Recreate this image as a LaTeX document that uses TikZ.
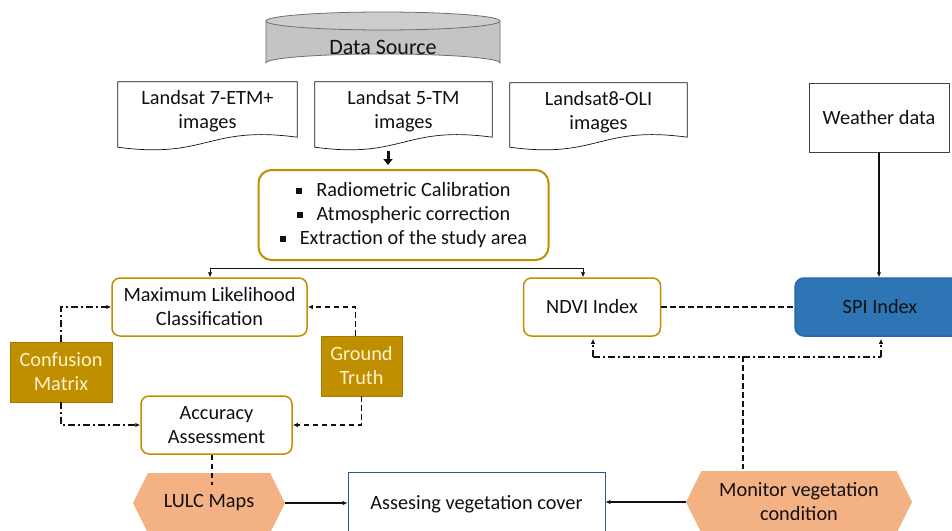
\documentclass[tikz,border=0pt]{standalone}
\usepackage{fontspec}
\setmainfont{Carlito}
\usetikzlibrary{calc,arrows.meta,shapes.symbols}

\definecolor{gold}{HTML}{BF8F00}
\definecolor{cream}{HTML}{FFF2CC}
\definecolor{peach}{HTML}{F4B183}
\definecolor{spiblue}{HTML}{2E75B6}
\definecolor{spiedge}{HTML}{2A66A8}
\definecolor{navy}{HTML}{2F5597}
\definecolor{ink}{HTML}{111111}
\definecolor{drum}{HTML}{C4C4C4}
\definecolor{drumedge}{HTML}{6E6E6E}

\tikzset{
  txt/.style={font=\fontsize{20.3}{24}\selectfont, text=ink, align=center, inner sep=0pt},
  goldbox/.style={txt, draw=gold, line width=1.5pt, rounded corners=8pt, fill=white},
  goldfill/.style={txt, fill=gold, draw=gold!85!black, line width=0.8pt, text=cream},
  plainbox/.style={txt, draw=ink!80, line width=0.8pt, fill=white},
  hexa/.style={txt, signal, signal to=west and east, signal pointer angle=127, fill=peach, draw=none},
  docnode/.style={txt},
  docline/.style={draw=ink, line width=0.7pt, fill=white},
  tip/.style={-{Latex[length=5pt,width=4.5pt]}},
  thin/.style={draw=ink, line width=0.8pt},
  dsh/.style={draw=ink, line width=1.5pt, dash pattern=on 5.5pt off 3.5pt},
  dd/.style={draw=ink, line width=1.5pt, dash pattern=on 7pt off 3pt on 2pt off 3pt},
}

% wavy-bottom document outline around a named node
\newcommand\docpath[1]{%
  \draw[docline] let \p1=(#1.south west), \p2=(#1.north east) in
    (\x1,\y2) -- (\x2,\y2) -- (\x2,\y1+1pt)
    .. controls (\x1/2+\x2/2,\y1+13pt) and (\x1/2+\x2/2,\y1-21pt) .. (\x1,\y1-9pt) -- cycle;}

\begin{document}
\begin{tikzpicture}[x=1pt,y=-1pt]
\useasboundingbox (0,0) rectangle (952,530);
\clip (0,0) rectangle (952,530);
\fill[white] (0,0) rectangle (952,530);

% data source drum
\fill[drum] (266,21) -- (266,63) arc[start angle=180, end angle=360, x radius=117, y radius=9] -- (500,21) -- cycle;
\draw[drumedge, line width=0.8pt] (266,21) -- (266,63) arc[start angle=180, end angle=360, x radius=117, y radius=9] -- (500,21);
\draw[drumedge, line width=0.8pt, fill=drum!85!white] (383,21) ellipse[x radius=117, y radius=9];
\node[txt, font=\fontsize{22}{24}\selectfont] (ds) at (383,47) {Data Source};

% image documents
\node[docnode, minimum width=179pt, minimum height=56pt] (l7) at (207.5,110) {};
\node[docnode, minimum width=177pt, minimum height=56pt] (l5) at (403.5,110) {};
\node[docnode, minimum width=177pt, minimum height=55pt] (l8) at (598.5,110.5) {};
\docpath{l7}\docpath{l5}\docpath{l8}
\node[txt] at (207.5,111.5) {Landsat 7-ETM+\\images};
\node[txt] at (403.5,111.5) {Landsat 5-TM\\images};
\node[txt] at (598.5,112.5) {Landsat8-OLI\\images};

% weather data
\node[plainbox, minimum width=140pt, minimum height=69pt] (wd) at (879,117.5) {Weather data};

% preprocessing
\node[goldbox, line width=2pt, rounded corners=13pt, minimum width=290pt, minimum height=90pt] (proc) at (403.5,215)
  {\rule[2pt]{6pt}{6pt}\hspace{14pt}Radiometric Calibration\\
   \rule[2pt]{6pt}{6pt}\hspace{14pt}Atmospheric correction\\
   \rule[2pt]{6pt}{6pt}\hspace{14pt}Extraction of the study area};

\coordinate (fa) at (388,151);
\draw[ink, line width=3pt, -{Triangle[length=6pt,width=9pt]}] (fa) -- ($(fa |- proc.north)+(0,-4)$);

% classification branch
\node[goldbox, minimum width=195pt, minimum height=58pt] (mlc) at (209.5,307) {Maximum Likelihood\\Classification};
\node[goldbox, minimum width=137pt, minimum height=58pt] (ndvi) at (592,307) {NDVI Index};
\node[goldbox, minimum width=151pt, minimum height=58pt] (acc) at (216.5,425) {Accuracy\\Assessment};
\node[goldfill, minimum width=102pt, minimum height=60pt] (cm) at (61,372) {Confusion\\Matrix};
\node[goldfill, minimum width=81pt, minimum height=60pt] (gt) at (361.5,366) {Ground\\Truth};

\node[txt, fill=spiblue, draw=spiedge, line width=1.5pt, rounded corners=9pt, minimum width=170pt, minimum height=58pt] (spi) at (880,307) {SPI Index};

% bottom row
\node[txt, draw=navy, line width=0.8pt, fill=white, minimum width=257pt, minimum height=64pt] (av) at (476.5,504) {Assesing vegetation cover};
\node[hexa, minimum width=152pt, minimum height=60pt] (lulc) at (209,503) {LULC Maps};
\node[hexa, minimum width=226pt, minimum height=62pt] (mon) at (799,502) {Monitor vegetation\\condition};

% split line below preprocessing
\coordinate (bl) at (210,268);
\coordinate (br) at (583,268);
\draw[thin] (bl) -- (br);
\draw[thin, tip] (bl) -- (bl |- mlc.north);
\draw[thin, tip] (br) -- (br |- ndvi.north);

% weather to SPI
\draw[ink, line width=1.8pt, tip] (wd.south) -- (wd.south |- spi.north);

% accuracy loop
\draw[dd, tip] (cm.north) |- (mlc.west);
\draw[dd, tip] (cm.south) |- (acc.west);
\draw[dsh, tip] ($(gt.north)+(-6,0)$) |- (mlc.east);
\draw[dsh, tip] (gt.south) |- (acc.east);
\draw[dsh] ($(acc.south)+(-4.5,0)$) -- ++(0,30);

% index links
\draw[dsh] (ndvi.east) -- (spi.west);
\coordinate (jl) at ($(ndvi.south)+(1,20)$);
\coordinate (jr) at ($(spi.south)+(1,20)$);
\coordinate (jm) at (743,356);
\draw[dd] (jl) -- (jr);
\draw[dd, tip, shorten >=2pt] (jl) -- (jl |- ndvi.south);
\draw[dd, tip, shorten >=2pt] (jr) -- (jr |- spi.south);
\draw[dsh] (jm) -- ($(jm |- mon.north)+(0,-2)$);

% into assessment of vegetation cover
\draw[ink, line width=1.5pt, tip] (lulc.east) -- (lulc.east -| av.west);
\draw[ink, line width=1.5pt, tip] (mon.west) -- (mon.west -| av.east);
\end{tikzpicture}
\end{document}
